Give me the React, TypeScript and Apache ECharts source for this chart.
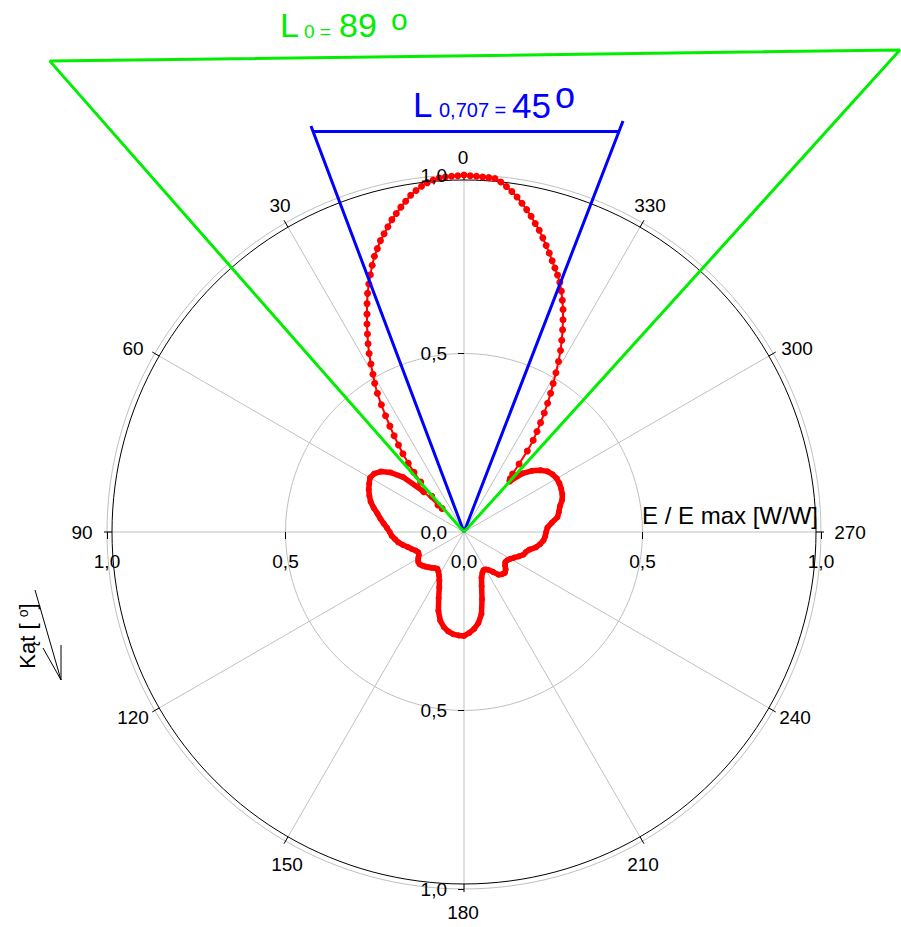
import React, { useEffect, useRef } from 'react';
import * as echarts from 'echarts';

// ---------- data (E / E max) ----------
// Main lobe, left half: angles 0..45 deg (1 deg step, counter-clockwise)
const mainLobeLeft = [
  1.0, 0.998, 0.997, 0.996, 0.994, 0.99, 0.984, 0.976, 0.966, 0.955,
  0.941, 0.927, 0.912, 0.898, 0.881, 0.865, 0.849, 0.83, 0.812, 0.79,
  0.767, 0.744, 0.721, 0.695, 0.668, 0.643, 0.617, 0.592, 0.566, 0.538,
  0.51, 0.486, 0.458, 0.425, 0.393, 0.362, 0.333, 0.305, 0.278, 0.248,
  0.218, 0.185, 0.135, 0.09, 0.105, 0.16,
];
// Main lobe, right half: angles 359..318 deg (1 deg step, i.e. 1..42 deg clockwise)
const mainLobeRight = [
  0.998, 0.997, 0.996, 0.995, 0.994, 0.986, 0.975, 0.963, 0.95, 0.935,
  0.92, 0.904, 0.887, 0.871, 0.853, 0.835, 0.817, 0.799, 0.782, 0.766,
  0.749, 0.728, 0.705, 0.682, 0.656, 0.63, 0.603, 0.576, 0.546, 0.515,
  0.485, 0.458, 0.43, 0.402, 0.374, 0.348, 0.322, 0.288, 0.245, 0.212,
  0.198, 0.192,
];
// Side + back lobes, left: angles 45..180 deg (3 deg step)
const sideLobeLeft = [
  0.16, 0.23, 0.265, 0.288, 0.3, 0.304, 0.298, 0.292, 0.284, 0.275,
  0.262, 0.248, 0.237, 0.226, 0.216, 0.208, 0.203, 0.194, 0.186, 0.175,
  0.163, 0.154, 0.145, 0.14, 0.142, 0.148, 0.153, 0.154, 0.15, 0.145,
  0.14, 0.135, 0.13, 0.127, 0.132, 0.14, 0.152, 0.17, 0.198, 0.232,
  0.257, 0.272, 0.282, 0.288, 0.29, 0.291,
];
// Side + back lobes, right: angles 318..183 deg (3 deg step, i.e. 42..177 deg clockwise)
const sideLobeRight = [
  0.192, 0.232, 0.256, 0.275, 0.289, 0.296, 0.3, 0.3, 0.298, 0.295,
  0.289, 0.278, 0.272, 0.265, 0.247, 0.234, 0.23, 0.228, 0.224, 0.216,
  0.206, 0.19, 0.182, 0.178, 0.168, 0.158, 0.15, 0.145, 0.143, 0.148,
  0.157, 0.162, 0.159, 0.154, 0.138, 0.127, 0.121, 0.12, 0.126, 0.137,
  0.16, 0.195, 0.235, 0.258, 0.273, 0.283,
];
const angleLabelValues = [0, 30, 60, 90, 120, 150, 180, 210, 240, 270, 300, 330];
const radiusLabelValues = [-1, -0.5, 0, 0.5, 1];
const radiusTickValues = [-1, -0.5, 0.5, 1];
// Annotation lines in E/Emax units (x right, y up, origin at the pole)
const greenTriangle = [[0, 0], [-1.16, 1.319], [1.221, 1.35], [0, 0]];
const blueWedge = [[-0.4286, 1.1373], [0, 0], [0.4454, 1.1513]];
const blueBar = [[-0.423, 1.1218], [0.437, 1.1218]];

// ---------- layout ----------
const W = 901;
const H = 927;
const CX = 464;
const CY = 532;
const R = 357;
const R2 = 352;
const FONT = "'Liberation Sans', Arial, Helvetica, sans-serif";
const GREEN = '#00ee00';
const BLUE = '#0000ff';
const RED = '#ff0000';
const GRAY = '#c0c0c0';
const LABEL_SIZE = 19;
// pixel offsets of the angle-label centres from the pole (layout only)
const angleLabelOffsets = [
  [-1, -375], [-184, -327], [-331, -184], [-382, 0], [-331, 185], [-177, 332],
  [-1, 380], [179, 332], [331, 185], [386, 0], [333, -184], [186, -327],
];

const fmt = (v: number) => Math.abs(v).toFixed(1).replace('.', ',');

export default function App() {
  const ref = useRef<HTMLDivElement>(null);
  useEffect(() => {
    if (!ref.current) return;
    const chart = echarts.init(ref.current, undefined, { renderer: 'svg' });

    const mainData = [
      ...mainLobeRight.map((r, i) => [r, 360 - (i + 1)]).reverse(),
      ...mainLobeLeft.map((r, i) => [r, i]),
    ];
    const sideData = [
      ...sideLobeLeft.map((r, i) => [r, 45 + 3 * i]),
      ...sideLobeRight.map((r, i) => [r, 360 - (42 + 3 * i)]).reverse(),
    ];

    const txt = (
      x: number,
      y: number,
      text: string,
      size: number,
      color: string,
      align = 'left',
    ) => ({
      type: 'text',
      x,
      y,
      z: 100,
      style: {
        text,
        fill: color,
        font: `${size}px ${FONT}`,
        textAlign: align,
        textVerticalAlign: 'middle',
      },
    });

    const angleLabels = angleLabelValues.map((a, i) =>
      txt(CX + angleLabelOffsets[i][0], CY + angleLabelOffsets[i][1], String(a), LABEL_SIZE, '#000', 'center'),
    );
    // radius labels: vertical axis (left of the line) and horizontal axis (below the line)
    const radiusLabelsV = radiusLabelValues.map((v) =>
      txt(CX - 17, CY - v * R, fmt(v), LABEL_SIZE, '#000', 'right'),
    );
    const radiusLabelsH = radiusLabelValues.map((v) =>
      txt(CX + v * R, CY + 29, fmt(v), LABEL_SIZE, '#000', 'center'),
    );

    const option: any = {
      animation: false,
      textStyle: { fontFamily: FONT },
      polar: [
        { center: [CX, CY], radius: R },
        { center: [CX, CY], radius: R2 },
      ],
      angleAxis: [
        {
          polarIndex: 0,
          type: 'value',
          min: 0,
          max: 360,
          interval: 30,
          startAngle: 90,
          clockwise: false,
          axisLine: { show: false },
          axisTick: { show: false },
          axisLabel: { show: false },
          splitLine: { show: true, lineStyle: { color: GRAY, width: 1 } },
        },
        {
          polarIndex: 1,
          type: 'value',
          min: 0,
          max: 360,
          interval: 30,
          startAngle: 90,
          clockwise: false,
          axisLine: { show: true, lineStyle: { color: '#000', width: 1 } },
          axisTick: { show: true, length: 8, lineStyle: { color: '#000', width: 1 } },
          axisLabel: { show: false },
          splitLine: { show: false },
        },
      ],
      radiusAxis: [
        {
          polarIndex: 0,
          type: 'value',
          min: 0,
          max: 1,
          interval: 0.5,
          axisLine: { show: false },
          axisTick: { show: false },
          axisLabel: { show: false },
          splitLine: { show: true, lineStyle: { color: GRAY, width: 1 } },
        },
        {
          polarIndex: 1,
          type: 'value',
          min: 0,
          max: 1,
          interval: 0.5,
          axisLine: { show: false },
          axisTick: { show: false },
          axisLabel: { show: false },
          splitLine: { show: false },
        },
      ],
      grid: { left: 0, right: 0, top: 0, bottom: 0, containLabel: false, outerBoundsMode: 'none' },
      xAxis: {
        type: 'value',
        min: -CX / R,
        max: (W - CX) / R,
        axisLine: { show: false, onZero: true },
        splitLine: { show: false },
        axisTick: { show: true, customValues: radiusTickValues, length: 7, lineStyle: { color: '#000' } },
        axisLabel: { show: false },
      },
      yAxis: {
        type: 'value',
        min: -(H - CY) / R,
        max: CY / R,
        axisLine: { show: false, onZero: true },
        splitLine: { show: false },
        axisTick: { show: true, customValues: radiusTickValues, length: 6, lineStyle: { color: '#000' } },
        axisLabel: { show: false },
      },
      series: [
        {
          name: 'side',
          type: 'line',
          coordinateSystem: 'polar',
          polarIndex: 0,
          data: sideData,
          symbol: 'circle',
          symbolSize: 6,
          lineStyle: { color: RED, width: 5.5 },
          itemStyle: { color: RED },
          z: 3,
        },
        {
          name: 'main',
          type: 'line',
          coordinateSystem: 'polar',
          polarIndex: 0,
          data: mainData,
          symbol: 'circle',
          symbolSize: 7,
          lineStyle: { color: RED, width: 2 },
          itemStyle: { color: RED },
          z: 3,
        },
        {
          name: 'L0.707',
          type: 'line',
          xAxisIndex: 0,
          yAxisIndex: 0,
          data: blueWedge,
          symbol: 'none',
          lineStyle: { color: BLUE, width: 3 },
          z: 4,
        },
        {
          name: 'L0.707 bar',
          type: 'line',
          xAxisIndex: 0,
          yAxisIndex: 0,
          data: blueBar,
          symbol: 'none',
          lineStyle: { color: BLUE, width: 3 },
          z: 4,
        },
        {
          name: 'L0',
          type: 'line',
          xAxisIndex: 0,
          yAxisIndex: 0,
          data: greenTriangle,
          symbol: 'none',
          lineStyle: { color: GREEN, width: 3 },
          z: 5,
        },
      ],
      graphic: [
        ...angleLabels,
        ...radiusLabelsV,
        ...radiusLabelsH,
        // green title
        txt(280, 25, 'L', 34, GREEN),
        txt(304, 31, '0 =', 19, GREEN),
        txt(339, 25, '89', 34, GREEN),
        txt(391, 19, 'o', 30, GREEN),
        // blue title
        txt(413, 104, 'L', 35, BLUE),
        txt(439, 110, '0,707 =', 20, BLUE),
        txt(512, 105, '45', 35, BLUE),
        txt(555, 95, 'o', 36, BLUE),
        // radial axis title
        txt(818, 515, 'E / E max [W/W]', 24, '#000', 'right'),
        // angle axis title (rotated)
        {
          type: 'text',
          x: 27,
          y: 636,
          rotation: Math.PI / 2,
          z: 100,
          style: {
            text: '{a|Kąt [ }{s|o}{a|]}',
            fill: '#000',
            textAlign: 'center',
            textVerticalAlign: 'middle',
            rich: {
              a: { fontSize: 22, fontFamily: FONT, fill: '#000' },
              s: { fontSize: 14, fontFamily: FONT, fill: '#000', verticalAlign: 'top' },
            },
          },
        },
        {
          type: 'polyline',
          z: 100,
          shape: { points: [[35, 590], [61, 680]] },
          style: { stroke: '#000', lineWidth: 1, fill: null },
        },
        {
          type: 'polyline',
          z: 100,
          shape: { points: [[43, 648], [61, 680], [61, 645]] },
          style: { stroke: '#000', lineWidth: 1, fill: null },
        },
      ],
    };

    chart.setOption(option);
    return () => chart.dispose();
  }, []);

  return (
    <div
      ref={ref}
      style={{ position: 'absolute', left: 0, top: 0, width: W, height: H, background: '#fff' }}
    />
  );
}
